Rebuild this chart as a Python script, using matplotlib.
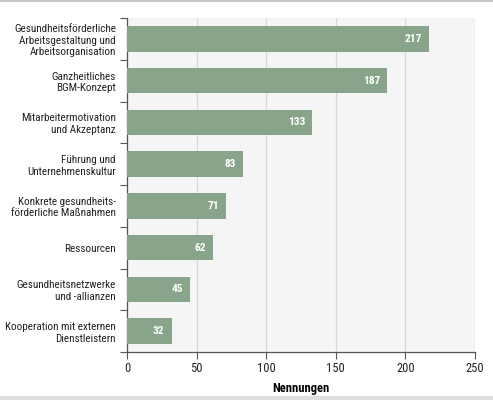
import matplotlib
matplotlib.use('Agg')
import matplotlib.pyplot as plt
from matplotlib.lines import Line2D

categories = ['Gesundheitsförderliche\nArbeitsgestaltung und\nArbeitsorganisation',
              'Ganzheitliches\nBGM-Konzept',
              'Mitarbeitermotivation\nund Akzeptanz',
              'Führung und\nUnternehmenskultur',
              'Konkrete gesundheits-\nförderliche Maßnahmen',
              'Ressourcen',
              'Gesundheitsnetzwerke\nund -allianzen',
              'Kooperation mit externen\nDienstleistern']
values = [217, 187, 133, 83, 71, 62, 45, 32]
xticks = [0, 50, 100, 150, 200, 250]

plt.rcParams['font.family'] = ['Roboto Condensed', 'DejaVu Sans']

fig = plt.figure(figsize=(4.93, 4.00), dpi=100)
ax = fig.add_axes([0.2576, 0.12, 0.7059, 0.835])
ax.set_facecolor('#f5f5f5')

pos = list(range(len(categories)))
bars = ax.barh(pos, values, height=0.61, color='#88a58c', zorder=3)
for b, v in zip(bars, values):
    ax.annotate(str(v), (b.get_width(), b.get_y() + b.get_height() / 2),
                xytext=(-5, 0), textcoords='offset points', ha='right', va='center',
                color='white', fontweight='bold', fontsize=8.2, zorder=4)

ax.set_xlim(0, 250)
ax.set_ylim(len(categories) - 0.5, -0.5)
ax.set_xticks(xticks)
ax.set_xticklabels([str(t) for t in xticks], fontsize=9, color='#222222')
ax.set_yticks(pos)
ax.set_yticklabels(categories, fontsize=8, color='#222222', linespacing=1.2)
for lab in ax.get_yticklabels():
    lab.set_multialignment('right')
ax.tick_params(axis='y', length=0, pad=8)
ax.set_yticks([p - 0.5 for p in pos] + [len(pos) - 0.5], minor=True)
ax.tick_params(axis='y', which='minor', length=5, color='#555555', width=0.8)
ax.tick_params(axis='x', length=5, color='#555555', width=0.8, pad=2)
ax.grid(axis='x', color='#d8d8d8', linewidth=0.9, zorder=0)
for s in ['top', 'right']:
    ax.spines[s].set_visible(False)
for s in ['left', 'bottom']:
    ax.spines[s].set_color('#555555')
    ax.spines[s].set_linewidth(0.9)
ax.set_xlabel('Nennungen', fontweight='bold', fontsize=9, labelpad=5)

fig.add_artist(Line2D([0, 1], [0.997, 0.997], color='#bbbbbb', linewidth=1.2))
fig.add_artist(Line2D([0, 1], [0.004, 0.004], color='#dddddd', linewidth=3))

fig.savefig('out.png', dpi=100)
